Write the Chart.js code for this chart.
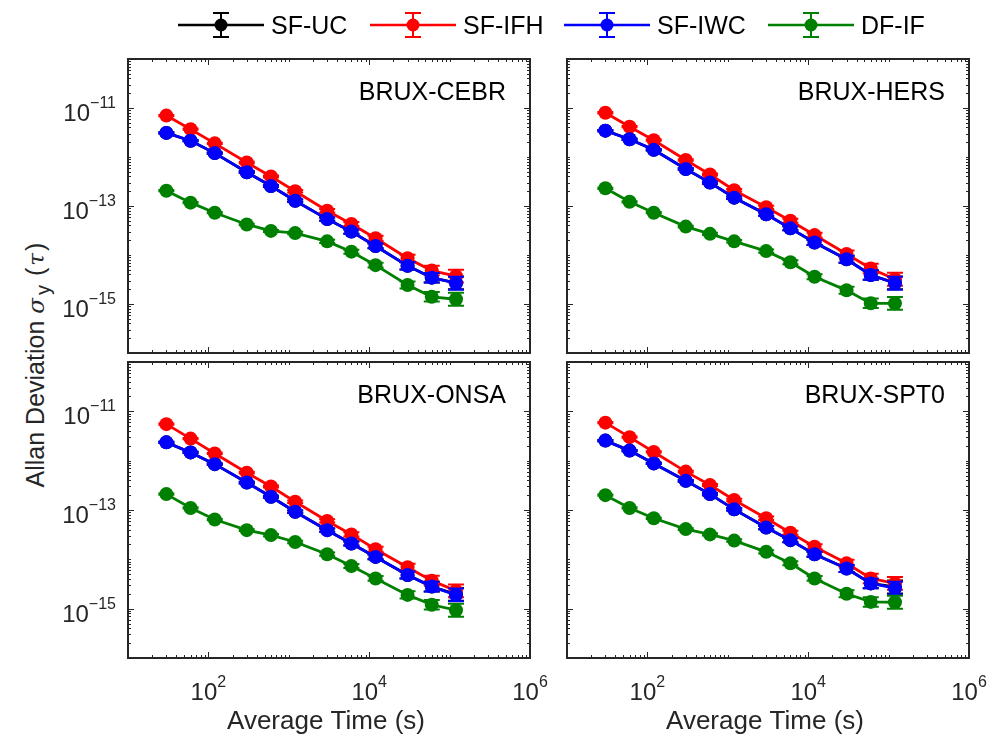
<!DOCTYPE html>
<html>
<head>
<meta charset="utf-8">
<title>Allan Deviation</title>
<script src="https://cdn.jsdelivr.net/npm/chart.js@4.4.0/dist/chart.umd.min.js"></script>
<style>
  body { margin: 0; background: #fff; width: 998px; height: 737px; overflow: hidden; position: relative;
         font-family: "Liberation Sans", Arial, sans-serif; }
  canvas { position: absolute; left: 0; top: 0; }
  .leg { position: absolute; top: 10px; height: 30px; display: flex; align-items: center; font-size: 25px; color: #000; }
  .leg svg { margin-right: 7px; }
  #ytitle { position: absolute; left: 38px; top: 364px; transform: translate(-50%, -50%) rotate(-90deg);
            white-space: nowrap; font-size: 25px; color: #262626; }
  #ytitle i { font-family: "DejaVu Serif", "Liberation Serif", serif; font-size: 23px; }
  #ytitle .s { margin-left: 7px; }
  #ytitle sub { font-size: 20px; margin-left: 3px; }
  #ytitle .t { margin-left: 9px; letter-spacing: 2px; }
</style>
</head>
<body>
<div id="ytitle">Allan Deviation<i class="s">σ</i><sub>y</sub><span class="t">(<i>τ</i>)</span></div>
<canvas id="p0" width="998" height="737"></canvas>
<canvas id="p1" width="998" height="737"></canvas>
<canvas id="p2" width="998" height="737"></canvas>
<canvas id="p3" width="998" height="737"></canvas>
<div id="legend"></div>
<script>
// Datos
const tau = [30, 60, 120, 300, 600, 1200, 3000, 6000, 12000, 30000, 60000, 120000];
const relErr = [0.03, 0.03, 0.03, 0.04, 0.05, 0.06, 0.08, 0.1, 0.12, 0.18, 0.25, 0.35];

const seriesNames = ['SF-UC', 'SF-IFH', 'SF-IWC', 'DF-IF'];
const seriesColors = ['#000000', '#ff0000', '#0000ff', '#008000'];
const panelNames = ['BRUX-CEBR', 'BRUX-HERS', 'BRUX-ONSA', 'BRUX-SPT0'];
const xTickExp = [2, 4, 6];
const yTickExp = [-11, -13, -15];

// BRUX-CEBR
const cebrUC  = [3.1e-12, 2.15e-12, 1.2e-12, 4.9e-13, 2.55e-13, 1.28e-13, 5.4e-14, 3.0e-14, 1.53e-14, 6.0e-15, 3.45e-15, 2.7e-15];
const cebrIFH = [7.0e-12, 3.7e-12, 1.9e-12, 7.7e-13, 4.0e-13, 2.0e-13, 8.0e-14, 4.3e-14, 2.2e-14, 8.6e-15, 4.8e-15, 3.7e-15];
const cebrIWC = [3.1e-12, 2.15e-12, 1.2e-12, 4.9e-13, 2.55e-13, 1.28e-13, 5.4e-14, 3.0e-14, 1.53e-14, 6.0e-15, 3.45e-15, 2.65e-15];
const cebrDF  = [2.05e-13, 1.17e-13, 7.3e-14, 4.2e-14, 3.1e-14, 2.8e-14, 1.9e-14, 1.17e-14, 6.2e-15, 2.45e-15, 1.4e-15, 1.25e-15];

// BRUX-HERS
const hersUC  = [3.45e-12, 2.3e-12, 1.4e-12, 5.7e-13, 3.0e-13, 1.48e-13, 6.8e-14, 3.5e-14, 1.8e-14, 8.2e-15, 3.9e-15, 2.7e-15];
const hersIFH = [8.0e-12, 4.15e-12, 2.2e-12, 8.7e-13, 4.4e-13, 2.1e-13, 9.4e-14, 5.0e-14, 2.55e-14, 1.05e-14, 5.3e-15, 3.2e-15];
const hersIWC = [3.45e-12, 2.3e-12, 1.4e-12, 5.7e-13, 3.0e-13, 1.48e-13, 6.8e-14, 3.5e-14, 1.8e-14, 8.2e-15, 3.9e-15, 2.65e-15];
const hersDF  = [2.3e-13, 1.22e-13, 7.3e-14, 3.8e-14, 2.7e-14, 1.9e-14, 1.2e-14, 7.1e-15, 3.6e-15, 1.9e-15, 1.03e-15, 1.03e-15];

// BRUX-ONSA
const onsaUC  = [2.35e-12, 1.47e-12, 8.5e-13, 3.6e-13, 1.85e-13, 9.2e-14, 3.9e-14, 2.1e-14, 1.12e-14, 4.8e-15, 2.8e-15, 1.95e-15];
const onsaIFH = [5.5e-12, 2.8e-12, 1.4e-12, 5.7e-13, 3.0e-13, 1.47e-13, 6.0e-14, 3.2e-14, 1.6e-14, 6.9e-15, 3.7e-15, 2.3e-15];
const onsaIWC = [2.35e-12, 1.47e-12, 8.5e-13, 3.6e-13, 1.85e-13, 9.2e-14, 3.9e-14, 2.1e-14, 1.12e-14, 4.8e-15, 2.8e-15, 1.9e-15];
const onsaDF  = [2.1e-13, 1.1e-13, 6.4e-14, 3.9e-14, 3.1e-14, 2.25e-14, 1.27e-14, 7.3e-15, 4.1e-15, 1.9e-15, 1.2e-15, 9.3e-16];

// BRUX-SPT0
const spt0UC  = [2.55e-12, 1.6e-12, 8.8e-13, 3.9e-13, 2.1e-13, 1.03e-13, 4.4e-14, 2.45e-14, 1.27e-14, 6.5e-15, 3.25e-15, 2.75e-15];
const spt0IFH = [5.9e-12, 3.0e-12, 1.5e-12, 6.0e-13, 3.2e-13, 1.6e-13, 6.8e-14, 3.45e-14, 1.8e-14, 8.3e-15, 4.1e-15, 3.25e-15];
const spt0IWC = [2.55e-12, 1.6e-12, 8.8e-13, 3.9e-13, 2.1e-13, 1.03e-13, 4.4e-14, 2.45e-14, 1.27e-14, 6.5e-15, 3.25e-15, 2.6e-15];
const spt0DF  = [2.0e-13, 1.1e-13, 6.8e-14, 4.1e-14, 3.2e-14, 2.4e-14, 1.42e-14, 8.3e-15, 4.1e-15, 2.0e-15, 1.37e-15, 1.35e-15];

// Posición de cada panel: [left, top, right, bottom]
const panels = [
  { name: panelNames[0], series: [cebrUC, cebrIFH, cebrIWC, cebrDF], box: [128, 59, 530, 353], xLab: false, yLab: true },
  { name: panelNames[1], series: [hersUC, hersIFH, hersIWC, hersDF], box: [567, 59, 969, 353], xLab: false, yLab: false },
  { name: panelNames[2], series: [onsaUC, onsaIFH, onsaIWC, onsaDF], box: [128, 362, 530, 658], xLab: true, yLab: true },
  { name: panelNames[3], series: [spt0UC, spt0IFH, spt0IWC, spt0DF], box: [567, 362, 969, 658], xLab: true, yLab: false }
];

const FONT = '"Liberation Sans", Arial, sans-serif';
const AXIS_COLOR = '#262626';

// Dibuja "10" con exponente
function drawPow(ctx, exp, x, y, align) {
  const sup = String(exp).replace('-', '\u2212');
  ctx.font = '24px ' + FONT;
  const wb = ctx.measureText('10').width;
  ctx.font = '16px ' + FONT;
  const we = ctx.measureText(sup).width;
  const total = wb + we;
  const x0 = align === 'right' ? x - total : x - total / 2;
  ctx.textAlign = 'left';
  ctx.textBaseline = 'alphabetic';
  ctx.font = '24px ' + FONT;
  ctx.fillText('10', x0, y);
  ctx.font = '16px ' + FONT;
  ctx.fillText(sup, x0 + wb, y - 13);
}

/**
 * Barras de error sobre cada punto
 */
const errorBars = {
  id: 'errorBars',
  afterDatasetDraw(chart, args) {
    const ds = chart.data.datasets[args.index];
    const yScale = chart.scales.y;
    const ctx = chart.ctx;
    ctx.save();
    ctx.strokeStyle = ds.borderColor;
    ctx.lineWidth = 2;
    args.meta.data.forEach((pt, i) => {
      const v = ds.data[i].y;
      const e = relErr[i];
      const top = yScale.getPixelForValue(v * (1 + e));
      const bot = yScale.getPixelForValue(v / (1 + e));
      ctx.beginPath();
      ctx.moveTo(pt.x, top); ctx.lineTo(pt.x, bot);
      ctx.moveTo(pt.x - 8, top); ctx.lineTo(pt.x + 8, top);
      ctx.moveTo(pt.x - 8, bot); ctx.lineTo(pt.x + 8, bot);
      ctx.stroke();
    });
    ctx.restore();
  }
};

/**
 * Ejes estilo MATLAB: caja, ticks hacia dentro y etiquetas
 */
const matlabAxes = {
  id: 'matlabAxes',
  afterDraw(chart, args, opts) {
    const { ctx, chartArea: a } = chart;
    const xs = chart.scales.x, ys = chart.scales.y;
    ctx.save();
    ctx.strokeStyle = AXIS_COLOR;
    ctx.lineWidth = 1;
    ctx.beginPath();
    for (let e = 1; e <= 5; e++) {
      for (let k = 1; k <= 9; k++) {
        const v = k * Math.pow(10, e);
        if (v <= 10 || v >= 1e6) continue;
        const px = Math.round(xs.getPixelForValue(v)) + 0.5;
        const len = (k === 1 && xTickExp.includes(e)) ? 6 : 3;
        ctx.moveTo(px, a.bottom); ctx.lineTo(px, a.bottom - len);
        ctx.moveTo(px, a.top); ctx.lineTo(px, a.top + len);
      }
    }
    for (let e = -16; e <= -11; e++) {
      for (let k = 1; k <= 9; k++) {
        const v = k * Math.pow(10, e);
        if (v <= 1e-16 * 1.0001 || v >= 1e-10 * 0.9999) continue;
        const py = Math.round(ys.getPixelForValue(v)) + 0.5;
        const len = (k === 1 && yTickExp.includes(e)) ? 6 : 3;
        ctx.moveTo(a.left, py); ctx.lineTo(a.left + len, py);
        ctx.moveTo(a.right, py); ctx.lineTo(a.right - len, py);
      }
    }
    ctx.stroke();

    ctx.lineWidth = 2;
    ctx.strokeRect(a.left, a.top, a.right - a.left, a.bottom - a.top);

    ctx.fillStyle = AXIS_COLOR;
    if (opts.xLab) {
      xTickExp.forEach(e => drawPow(ctx, e, xs.getPixelForValue(Math.pow(10, e)), a.bottom + 42, 'center'));
      ctx.font = '26px ' + FONT;
      ctx.textAlign = 'center';
      ctx.fillText('Average Time (s)', (a.left + a.right) / 2 - 3, a.bottom + 71);
    }
    if (opts.yLab) {
      yTickExp.forEach(e => drawPow(ctx, e, a.left - 12, ys.getPixelForValue(Math.pow(10, e)) + 13, 'right'));
    }

    ctx.fillStyle = '#000';
    ctx.font = '25px ' + FONT;
    ctx.textAlign = 'right';
    ctx.fillText(opts.name, a.right - 24, a.top + 41);
    ctx.restore();
  }
};

function initPanel(p, idx) {
  const canvas = document.getElementById('p' + idx);
  const [l, t, r, b] = p.box;
  const datasets = p.series.map((vals, s) => ({
    label: seriesNames[s],
    data: tau.map((x, i) => ({ x: x, y: vals[i] })),
    borderColor: seriesColors[s],
    backgroundColor: seriesColors[s],
    pointBackgroundColor: seriesColors[s],
    borderWidth: 2.8,
    pointRadius: 7,
    pointBorderWidth: 0,
    tension: 0,
    order: 4 - s
  }));

  new Chart(canvas, {
    type: 'line',
    data: { datasets: datasets },
    options: {
      responsive: false,
      devicePixelRatio: 1,
      animation: false,
      events: [],
      layout: { padding: { left: l, top: t, right: 998 - r, bottom: 737 - b } },
      plugins: {
        legend: { display: false },
        tooltip: { enabled: false },
        matlabAxes: { name: p.name, xLab: p.xLab, yLab: p.yLab }
      },
      scales: {
        x: { type: 'logarithmic', min: 10, max: 1e6, display: false },
        y: { type: 'logarithmic', min: 1e-16, max: 1e-10, display: false }
      }
    },
    plugins: [errorBars, matlabAxes]
  });
}

// Leyenda superior
function buildLegend() {
  const lefts = [178, 370, 564, 768];
  const holder = document.getElementById('legend');
  seriesNames.forEach((name, s) => {
    const c = seriesColors[s];
    const div = document.createElement('div');
    div.className = 'leg';
    div.style.left = lefts[s] + 'px';
    div.innerHTML =
      '<svg width="86" height="30">' +
      '<line x1="0" y1="15" x2="86" y2="15" stroke="' + c + '" stroke-width="2.5"/>' +
      '<line x1="43" y1="3" x2="43" y2="27" stroke="' + c + '" stroke-width="2"/>' +
      '<line x1="35" y1="3" x2="51" y2="3" stroke="' + c + '" stroke-width="2"/>' +
      '<line x1="35" y1="27" x2="51" y2="27" stroke="' + c + '" stroke-width="2"/>' +
      '<circle cx="43" cy="15" r="6.5" fill="' + c + '"/>' +
      '</svg><span>' + name + '</span>';
    holder.appendChild(div);
  });
}

buildLegend();
panels.forEach(initPanel);
</script>
</body>
</html>
